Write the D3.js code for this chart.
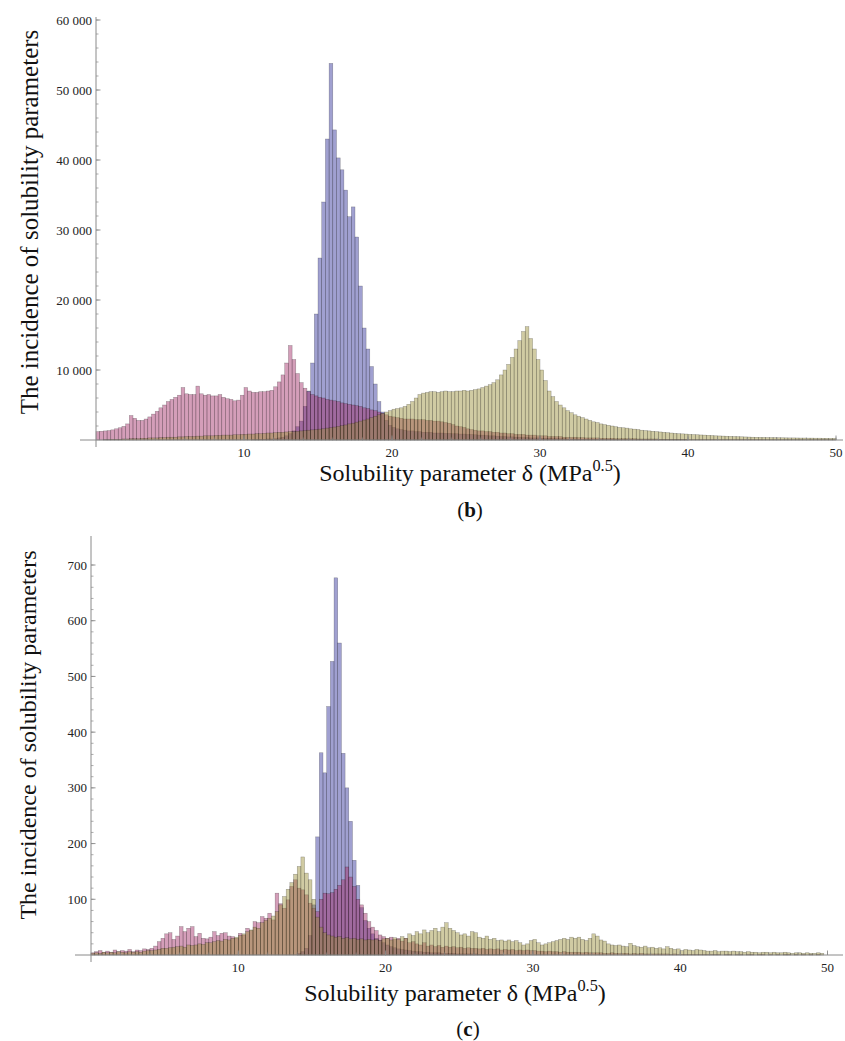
<!DOCTYPE html>
<html><head><meta charset="utf-8">
<script src="https://cdn.jsdelivr.net/npm/d3@7"></script>
<style>
body{margin:0;background:#fff}
</style>
</head><body>
<svg id="chart" width="845" height="1041" font-family="Liberation Serif, Times New Roman, DejaVu Serif, serif"></svg>
<script>
// ---------- shared ----------
const binWidth = 0.25;           // bin width in MPa^0.5, bins start at 0
const xTicks = [10, 20, 30, 40, 50];
const xTitle = "Solubility parameter δ (MPa";
const xTitleSup = "0.5";
const yTitle = "The incidence of solubility parameters";

// ---------- panel (b): values in thousands ----------
const yTicksB = [10, 20, 30, 40, 50, 60];
const yTickLabelsB = ["10 000", "20 000", "30 000", "40 000", "50 000", "60 000"];
const pinkB = [
1.2,1.25,1.3,1.35, 1.45,1.6,1.75,1.95, 2.3,3.5,3.1,2.8, 2.8,3.0,3.3,3.7,
4.1,4.6,5.0,5.5, 5.8,6.1,6.4,7.5, 6.6,6.5,6.5,7.7, 6.6,6.4,6.5,6.3,
6.3,6.5,6.1,5.9, 5.8,5.6,5.7,6.4, 7.5,7.0,6.8,6.8, 6.9,6.9,7.0,7.1,
7.6,8.3,9.3,11.0, 13.5,11.5,9.5,8.2, 7.4,6.9,6.5,6.3, 6.1,6.0,5.8,5.7,
5.6,5.5,5.3,5.2, 5.1,5.0,4.9,4.8, 4.6,4.5,4.3,4.2, 4.0,3.8,3.6,3.4,
3.3,3.2,3.1,3.0, 3.0,3.0,2.9,2.9, 2.9,2.8,2.8,2.7, 2.7,2.6,2.5,2.4,
2.2,2.0,1.9,1.8, 1.6,1.5,1.4,1.3, 1.3,1.2,1.2,1.1, 1.1,1.0,1.0,0.9,
0.9,0.8,0.8,0.8, 0.7,0.7,0.7,0.6, 0.6,0.6,0.5,0.5, 0.5,0.5,0.4,0.4,
0.4,0.4,0.35,0.35, 0.3,0.3,0.3,0.3, 0.25,0.25,0.25,0.25, 0.2,0.2,0.2,0.2,
0.2,0.2,0.15,0.15, 0.15,0.15,0.15,0.15, 0.1,0.1,0.1,0.1, 0.1,0.1,0.1,0.1,
0.08,0.08,0.08,0.08, 0.08,0.08,0.08,0.08, 0.08,0.08,0.08,0.08, 0.08,0.08,0.08,0.08,
0.08,0.08,0.08,0.08, 0.05,0.05,0.05,0.05, 0.05,0.05,0.05,0.05, 0.05,0.05,0.05,0.05,
0.05,0.05,0.05,0.05, 0.05,0.05,0.05,0.05
];
const blueB = [
0,0,0,0, 0,0,0,0, 0,0,0,0, 0,0,0,0,
0,0,0,0, 0,0,0,0, 0,0,0,0, 0,0,0,0,
0,0,0,0, 0,0,0,0, 0,0,0.05,0.05, 0.1,0.1,0.15,0.15,
0.2,0.3,0.4,0.6, 0.9,1.3,1.9,2.7, 4.8,7.0,11.0,18.0, 26.0,34.0,43.0,53.8,
44.3,40.3,38.6,35.7, 31.9,33.3,29.0,22.0, 16.0,13.0,10.5,8.0, 5.5,4.0,2.8,2.1,
1.8,1.6,1.5,1.4, 1.3,1.3,1.2,1.2, 1.1,1.1,1.1,1.0, 1.0,1.0,0.95,0.95,
0.9,0.9,0.85,0.85, 0.8,0.8,0.75,0.7, 0.7,0.65,0.6,0.6, 0.55,0.5,0.5,0.45,
0.45,0.4,0.4,0.35, 0.35,0.3,0.3,0.3, 0.25,0.25,0.25,0.2, 0.2,0.2,0.2,0.15,
0.15,0.15,0.1,0.1, 0.1,0.1,0.1,0.1, 0.1,0.1,0.1,0.1, 0.05,0.05,0.05,0.05,
0.05,0.05,0.05,0.05, 0.05,0.05,0.05,0.05, 0.05,0.05,0.05,0.05, 0.05,0.05,0.05,0.05,
0,0,0,0, 0,0,0,0, 0,0,0,0, 0,0,0,0,
0,0,0,0, 0,0,0,0, 0,0,0,0, 0,0,0,0,
0,0,0,0, 0,0,0,0
];
const oliveB = [
0,0,0.05,0.05, 0.1,0.1,0.1,0.15, 0.15,0.2,0.2,0.2, 0.25,0.25,0.3,0.3,
0.3,0.35,0.35,0.4, 0.4,0.4,0.45,0.45, 0.5,0.5,0.5,0.55, 0.55,0.6,0.6,0.6,
0.65,0.65,0.7,0.7, 0.7,0.75,0.75,0.8, 0.8,0.85,0.85,0.9, 0.9,0.95,1.0,1.0,
1.05,1.1,1.1,1.15, 1.2,1.2,1.25,1.3, 1.35,1.4,1.45,1.5, 1.55,1.6,1.7,1.75,
1.85,1.95,2.05,2.15, 2.3,2.4,2.55,2.7, 2.85,3.0,3.2,3.4, 3.6,3.8,4.0,4.2,
4.4,4.5,4.6,4.8, 5.1,5.5,6.0,6.5, 6.7,6.8,6.9,6.9, 6.8,6.9,7.0,6.9,
6.9,7.0,7.0,7.1, 7.0,7.1,7.2,7.3, 7.5,7.7,7.9,8.2, 8.6,9.3,10.0,10.8,
11.8,13.0,14.2,15.5, 16.2,14.5,13.0,11.5, 10.0,8.5,7.0,6.2, 5.5,5.0,4.6,4.2,
3.9,3.6,3.4,3.2, 3.0,2.8,2.6,2.5, 2.3,2.2,2.1,2.0, 1.9,1.8,1.75,1.7,
1.6,1.55,1.5,1.4, 1.35,1.3,1.25,1.2, 1.15,1.1,1.05,1.0, 0.95,0.9,0.88,0.85,
0.8,0.78,0.75,0.72, 0.7,0.67,0.64,0.6, 0.58,0.56,0.54,0.52, 0.5,0.48,0.46,0.44,
0.42,0.4,0.39,0.38, 0.37,0.36,0.35,0.34, 0.33,0.32,0.31,0.3, 0.3,0.29,0.28,0.28,
0.27,0.27,0.26,0.26, 0.25,0.25,0.24,0.24
];

// ---------- panel (c): raw counts ----------
const yTicksC = [100, 200, 300, 400, 500, 600, 700];
const yTickLabelsC = ["100", "200", "300", "400", "500", "600", "700"];
const pinkC = [
4,6,8,5, 7,5,9,6, 8,7,10,6, 9,8,11,10,
12,16,24,30, 38,40,28,34, 51,42,48,51, 33,39,30,29,
32,42,35,39, 40,34,33,30, 39,36,48,44, 60,58,69,66,
75,63,111,92, 84,99,123,135, 120,117,108,93, 84,78,100,111,
110,112,118,125, 135,158,140,123, 100,90,75,60, 50,44,36,33,
30,32,28,30, 25,30,22,24, 20,18,22,16, 18,15,17,14,
16,14,15,13, 14,12,13,12, 12,11,12,10, 11,10,11,9,
10,9,10,8, 9,8,9,8, 8,7,7,6, 7,6,6,5,
6,5,5,5, 5,4,5,4, 4,4,4,3, 3,4,3,3,
3,3,2,3, 2,3,2,2, 2,2,2,2, 2,1,2,1,
1,1,1,1, 1,1,1,1, 1,1,1,0, 1,1,0,1,
1,0,1,1, 0,1,1,0, 1,0,1,0, 1,1,0,1,
0,1,0,1, 0,1,0,0
];
const blueC = [
0,0,0,0, 0,0,0,0, 0,0,0,0, 0,0,0,0,
0,0,0,0, 0,0,0,0, 0,0,0,0, 0,0,0,0,
0,0,0,0, 0,0,0,0, 0,0,0,0, 0,0,0,0,
0,0,0,0, 0,0,0,0, 3,6,12,35, 90,212,363,327,
446,527,677,560, 362,300,240,170, 125,85,62,48, 38,30,26,22,
18,15,13,11, 10,9,8,7, 6,6,5,5, 4,4,4,3,
3,3,3,2, 2,2,2,2, 2,1,1,1, 1,1,1,1,
0,0,0,0, 0,0,0,0, 0,0,0,0, 0,0,0,0,
0,0,0,0, 0,0,0,0, 0,0,0,0, 0,0,0,0,
0,0,0,0, 0,0,0,0, 0,0,0,0, 0,0,0,0,
0,0,0,0, 0,0,0,0, 0,0,0,0, 0,0,0,0,
0,0,0,0, 0,0,0,0, 0,0,0,0, 0,0,0,0,
0,0,0,0, 0,0,0,0
];
const oliveC = [
3,4,3,5, 4,5,4,6, 5,4,6,5, 6,5,7,8,
8,9,10,12, 12,13,14,15, 16,14,18,17, 18,20,19,22,
22,24,26,25, 28,27,30,32, 35,38,42,45, 50,48,58,62,
66,70,78,90, 105,118,130,145, 159,176,147,135, 100,68,50,40,
36,34,32,33, 30,31,29,30, 28,29,27,28, 27,28,26,29,
30,27,31,28, 33,30,38,35, 42,38,45,40, 44,48,42,50,
58,48,44,40, 36,38,34,42, 40,32,30,34, 28,30,26,27,
25,27,24,26, 22,18,20,26, 28,22,18,20, 22,24,26,28,
30,28,32,30, 32,28,26,30, 38,34,27,25, 20,18,17,18,
16,15,21,17, 15,14,16,13, 14,12,13,11, 15,12,10,11,
8,10,9,8, 10,9,8,7, 7,8,6,7, 7,6,7,6,
6,5,6,5, 5,4,5,5, 4,5,4,4, 5,4,3,4,
4,3,4,3, 3,4,3,0
];

// ---------- styles ----------
const seriesStyle = {
  blue:  {fill: "rgb(45,45,150)",  op: 0.45},
  pink:  {fill: "rgb(160,40,100)", op: 0.45},
  olive: {fill: "rgb(150,140,50)", op: 0.45}
};

const svg = d3.select("#chart");

function drawPanel(cfg) {
  const g = svg.append("g");
  const x = d3.scaleLinear().domain([0, 50]).range(cfg.xRange);
  const y = d3.scaleLinear().domain([0, cfg.yMax]).range(cfg.yRange);

  cfg.series.forEach(s => {
    const st = seriesStyle[s.name];
    g.append("g").selectAll("rect")
      .data(s.values.map((v, i) => ({v, i})).filter(d => d.v > 0))
      .join("rect")
      .attr("x", d => x(d.i * binWidth))
      .attr("width", d => x((d.i + 1) * binWidth) - x(d.i * binWidth))
      .attr("y", d => y(d.v))
      .attr("height", d => y(0) - y(d.v))
      .attr("fill", st.fill)
      .attr("fill-opacity", st.op)
      .attr("stroke", "#000")
      .attr("stroke-opacity", 0.35)
      .attr("stroke-width", 0.5);
  });

  const axisColor = "#8a8a8a";
  g.append("line").attr("x1", cfg.xAxisStart).attr("x2", 843)
    .attr("y1", y(0)).attr("y2", y(0)).attr("stroke", axisColor).attr("stroke-width", 1);
  g.append("line").attr("x1", x(0)).attr("x2", x(0))
    .attr("y1", y(0) + 7).attr("y2", cfg.yAxisTop).attr("stroke", axisColor).attr("stroke-width", 1);

  const minorY = d3.range(cfg.yMinorStep, cfg.yMax + 1e-9, cfg.yMinorStep);
  g.append("g").selectAll("line").data(minorY).join("line")
    .attr("x1", x(0)).attr("x2", x(0) + 2.5)
    .attr("y1", d => y(d)).attr("y2", d => y(d))
    .attr("stroke", axisColor).attr("stroke-width", 0.7);
  g.append("g").selectAll("line").data(cfg.yTicks).join("line")
    .attr("x1", x(0)).attr("x2", x(0) + 4.5)
    .attr("y1", d => y(d)).attr("y2", d => y(d))
    .attr("stroke", axisColor).attr("stroke-width", 0.9);
  g.append("g").selectAll("text").data(cfg.yTicks).join("text")
    .attr("x", x(0) - 4).attr("y", d => y(d)).attr("dy", "0.35em")
    .attr("text-anchor", "end").attr("font-size", 13).attr("fill", "#222")
    .text((d, i) => cfg.yTickLabels[i]);

  const minorX = d3.range(2, 50.01, 2);
  g.append("g").selectAll("line").data(minorX).join("line")
    .attr("x1", d => x(d)).attr("x2", d => x(d))
    .attr("y1", y(0)).attr("y2", y(0) - 2.5)
    .attr("stroke", axisColor).attr("stroke-width", 0.7);
  g.append("g").selectAll("line").data(xTicks).join("line")
    .attr("x1", d => x(d)).attr("x2", d => x(d))
    .attr("y1", y(0)).attr("y2", y(0) - 4.5)
    .attr("stroke", axisColor).attr("stroke-width", 0.9);
  g.append("g").selectAll("text").data(xTicks).join("text")
    .attr("x", d => x(d)).attr("y", y(0) + 12).attr("dy", "0.35em")
    .attr("text-anchor", "middle").attr("font-size", 13).attr("fill", "#222")
    .text(d => d);

  const t = g.append("text").attr("x", cfg.xTitlePos[0]).attr("y", cfg.xTitlePos[1])
    .attr("text-anchor", "middle").attr("font-size", cfg.xTitleSize).attr("fill", "#111");
  t.append("tspan").text(xTitle);
  t.append("tspan").attr("font-size", cfg.xTitleSize * 0.68).attr("dy", -cfg.xTitleSize * 0.4).text(xTitleSup);
  t.append("tspan").attr("dy", cfg.xTitleSize * 0.4).text(")");

  g.append("text")
    .attr("transform", `translate(${cfg.yTitlePos[0]},${cfg.yTitlePos[1]}) rotate(-90)`)
    .attr("text-anchor", "middle").attr("font-size", cfg.yTitleSize).attr("fill", "#111")
    .text(yTitle);

  const p = g.append("text").attr("x", cfg.panelPos[0]).attr("y", cfg.panelPos[1])
    .attr("text-anchor", "middle").attr("font-size", 21).attr("fill", "#111");
  p.append("tspan").text("(");
  p.append("tspan").attr("font-weight", "bold").text(cfg.panelLetter);
  p.append("tspan").text(")");
}

drawPanel({
  xRange: [96, 836], yRange: [440, 20], yMax: 60, yAxisTop: 17,
  xAxisStart: 80, yMinorStep: 2,
  yTicks: yTicksB, yTickLabels: yTickLabelsB,
  series: [{name: "blue", values: blueB}, {name: "pink", values: pinkB}, {name: "olive", values: oliveB}],
  xTitlePos: [470, 481], xTitleSize: 24,
  yTitlePos: [38, 222], yTitleSize: 25,
  panelPos: [470, 517], panelLetter: "b"
});

drawPanel({
  xRange: [91, 827.5], yRange: [955, 565], yMax: 700, yAxisTop: 536,
  xAxisStart: 75, yMinorStep: 20,
  yTicks: yTicksC, yTickLabels: yTickLabelsC,
  series: [{name: "blue", values: blueC}, {name: "pink", values: pinkC}, {name: "olive", values: oliveC}],
  xTitlePos: [455, 1001], xTitleSize: 24,
  yTitlePos: [36, 735], yTitleSize: 24,
  panelPos: [468, 1036], panelLetter: "c"
});
</script>
</body></html>
